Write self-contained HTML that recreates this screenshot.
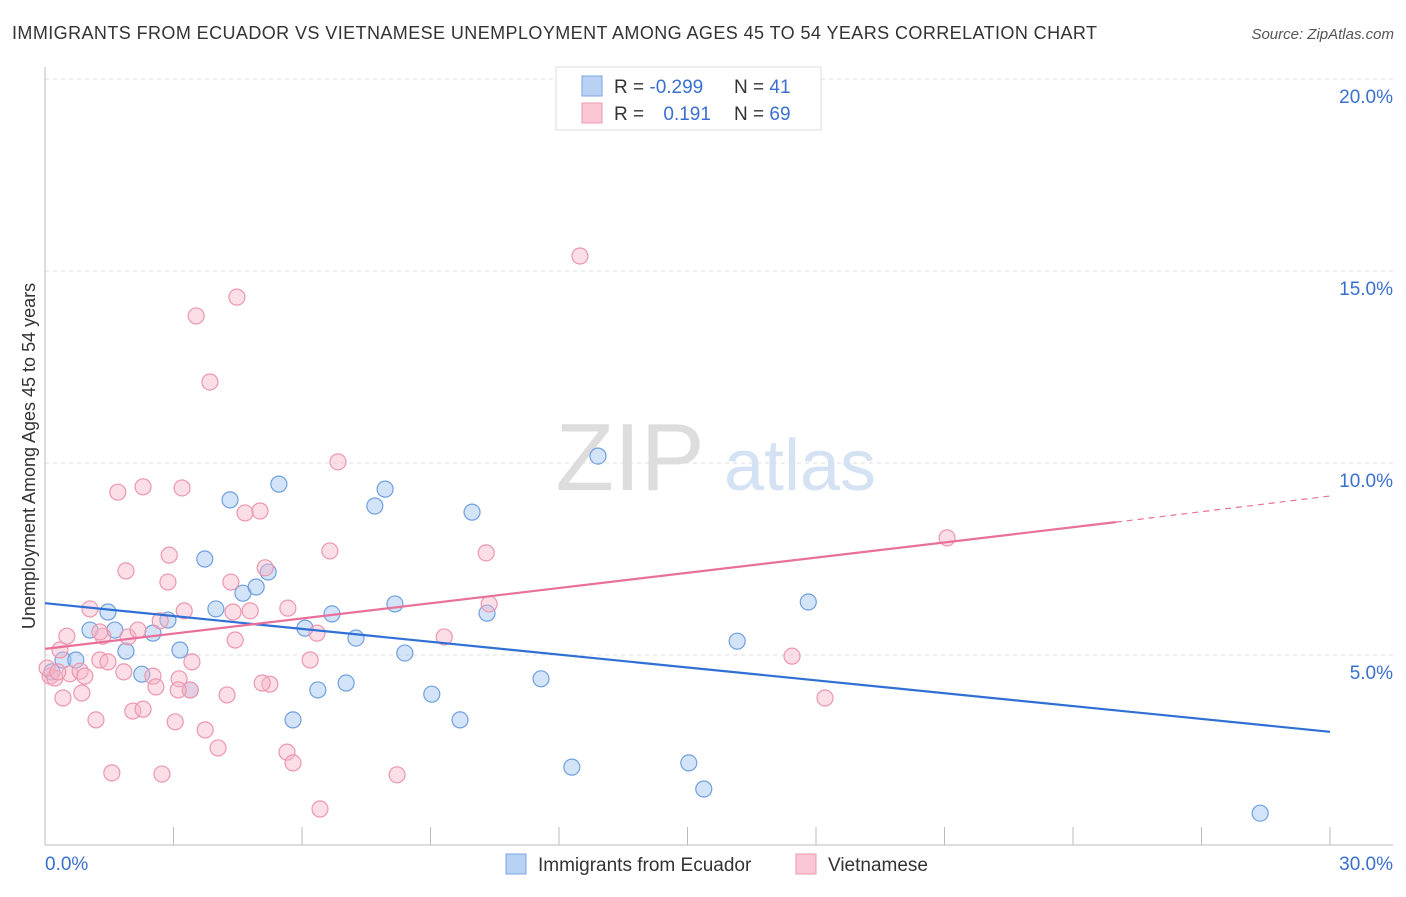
<!DOCTYPE html>
<html><head><meta charset="utf-8">
<style>
body{margin:0;background:#fff;font-family:"Liberation Sans",sans-serif;}
svg text{font-family:"Liberation Sans",sans-serif;}
</style></head>
<body>
<svg id="chart" width="1406" height="892" xmlns="http://www.w3.org/2000/svg">
<text x="12" y="39" font-size="18" fill="#333" textLength="1085" lengthAdjust="spacing">IMMIGRANTS FROM ECUADOR VS VIETNAMESE UNEMPLOYMENT AMONG AGES 45 TO 54 YEARS CORRELATION CHART</text>
<text x="1394" y="39" font-size="15" fill="#555" font-style="italic" text-anchor="end">Source: ZipAtlas.com</text>
<g id="grid"></g>
<text x="630" y="490" font-size="96" fill="#ddd" font-family="Liberation Serif" text-anchor="middle">ZIP</text>
<text x="800" y="490" font-size="72" fill="#d4e2f4" text-anchor="middle">atlas</text>
<text transform="translate(35,456) rotate(-90)" font-size="18" fill="#333" text-anchor="middle">Unemployment Among Ages 45 to 54 years</text>
<g id="marks"></g>
<g>
<rect x="556" y="67" width="265" height="63" fill="#fff" stroke="#ddd"/>
<rect x="582" y="76" width="20" height="20" fill="#b8d2f4" stroke="#7aa5e0"/>
<rect x="582" y="103" width="20" height="20" fill="#f9c6d4" stroke="#ec9ab2"/>
<text x="614" y="93" font-size="19" fill="#333">R = <tspan fill="#3a6fd0">-0.299</tspan></text>
<text x="734" y="93" font-size="19" fill="#333">N = <tspan fill="#3a6fd0"> 41</tspan></text>
<text x="614" y="120" font-size="19" fill="#333">R = <tspan fill="#3a6fd0" dx="14">0.191</tspan></text>
<text x="734" y="120" font-size="19" fill="#333">N = <tspan fill="#3a6fd0">69</tspan></text>
</g>
<g>
<rect x="506" y="854" width="20" height="20" fill="#b8d2f4" stroke="#7aa5e0"/>
<text x="538" y="871" font-size="19" fill="#333">Immigrants from Ecuador</text>
<rect x="796" y="854" width="20" height="20" fill="#f9c6d4" stroke="#ec9ab2"/>
<text x="828" y="871" font-size="19" fill="#333">Vietnamese</text>
</g>
</svg>
<script>
const yTicks=[5,10,15,20];
const yTickLabels=["5.0%","10.0%","15.0%","20.0%"];
const xTicks=[0,3,6,9,12,15,18,21,24,27,30];
const xEndLabels=["0.0%","30.0%"];
const ecuadorX=[0.16,0.42,0.72,1.05,1.47,1.63,1.89,2.26,2.52,2.87,3.15,3.39,3.73,3.99,4.32,4.62,4.93,5.21,5.46,5.79,6.07,6.37,6.70,7.03,7.26,7.70,7.94,8.17,8.40,9.03,9.69,9.97,10.32,11.58,12.30,12.91,15.03,15.38,16.16,17.82,28.37];
const ecuadorY=[4.56,4.87,4.87,5.65,6.12,5.65,5.10,4.50,5.57,5.91,5.13,4.09,7.50,6.20,9.04,6.61,6.77,7.16,9.45,3.31,5.70,4.09,6.07,4.27,5.44,8.88,9.32,6.33,5.05,3.98,3.31,8.72,6.09,4.38,2.08,10.18,2.19,1.51,5.36,6.38,0.88];
const vietX=[0.12,0.23,0.35,0.42,0.51,0.58,0.82,0.86,0.93,1.05,1.19,1.28,1.35,1.47,1.56,1.70,1.84,1.89,1.94,2.05,2.17,2.29,2.29,2.52,2.59,2.69,2.73,2.87,2.90,3.04,3.13,3.20,3.25,3.39,3.43,3.53,3.74,3.85,4.04,4.25,4.34,4.39,4.44,4.48,4.67,4.79,5.02,5.14,5.25,5.65,5.67,5.79,6.19,6.35,6.42,6.65,6.84,8.22,9.32,10.30,10.37,12.49,17.44,18.21,21.06,0.05,0.30,1.28,3.11,5.07];
const vietY=[4.45,4.40,5.13,3.88,5.49,4.51,4.58,4.01,4.45,6.20,3.31,4.87,5.49,4.82,1.93,9.24,4.56,7.19,5.47,3.54,5.65,3.59,9.38,4.45,4.17,5.89,1.90,6.90,7.60,3.26,4.38,9.35,6.15,4.09,4.82,13.83,3.05,12.11,2.58,3.96,6.90,6.12,5.39,14.32,8.70,6.15,8.75,7.27,4.24,2.47,6.22,2.19,4.87,5.57,0.99,7.71,10.03,1.88,5.47,7.66,6.33,15.39,4.97,3.88,8.05,4.66,4.56,5.60,4.09,4.27];
const ecuadorTrend=[6.35,3.0];
const vietTrend=[5.16,8.46,9.14];
const NS="http://www.w3.org/2000/svg";
const sx=v=>45+v/30*1285;
const sy=v=>847-v*38.4;
function mk(tag,attrs,parent){const e=document.createElementNS(NS,tag);for(const k in attrs)e.setAttribute(k,attrs[k]);parent.appendChild(e);return e;}
const grid=document.getElementById('grid');
const marks=document.getElementById('marks');
yTicks.forEach((t,i)=>{
  let l=mk('line',{x1:45,x2:1393,y1:sy(t),y2:sy(t),stroke:'#ddd','stroke-dasharray':'4,4'},grid);
  
  
  let tx=mk('text',{x:1393,y:sy(t)+24,'font-size':19,fill:'#3a6fd0','text-anchor':'end'},grid);
  tx.textContent=yTickLabels[i];
  
  
});
let ax=mk('line',{x1:45,x2:1393,y1:845,y2:845,stroke:'#bbb'},grid);


let ay=mk('line',{x1:45,x2:45,y1:67,y2:845,stroke:'#bbb'},grid);


xTicks.forEach(t=>{
  let l=mk('line',{x1:sx(t),x2:sx(t),y1:827,y2:845,stroke:'#bbb'},grid);
  
  
});
[[0,'start',45],[30,'end',1393]].forEach((d,i)=>{
  let tx=mk('text',{x:d[2],y:870,'font-size':19,fill:'#3a6fd0','text-anchor':d[1]},grid);
  tx.textContent=xEndLabels[i];
  
  
});
ecuadorX.forEach((x,i)=>{
  let c=mk('circle',{cx:sx(x),cy:sy(ecuadorY[i]),r:8,fill:'rgba(160,196,240,0.45)',stroke:'#6f9fe0','stroke-width':1.2},marks);
  
  
});
vietX.forEach((x,i)=>{
  let c=mk('circle',{cx:sx(x),cy:sy(vietY[i]),r:8,fill:'rgba(246,182,200,0.45)',stroke:'#ec96b0','stroke-width':1.2},marks);
  
  
});
let bl=mk('line',{x1:sx(0),y1:sy(ecuadorTrend[0]),x2:sx(30),y2:sy(ecuadorTrend[1]),stroke:'#2f6fd6','stroke-width':2.2},marks);


let pl=mk('line',{x1:sx(0),y1:sy(vietTrend[0]),x2:sx(25),y2:sy(vietTrend[1]),stroke:'#e8709a','stroke-width':2.2},marks);


let pd=mk('line',{x1:sx(25),y1:sy(vietTrend[1]),x2:sx(30),y2:sy(vietTrend[2]),stroke:'#e8709a','stroke-width':1.2,'stroke-dasharray':'6,5'},marks);


</script>
</body></html>
